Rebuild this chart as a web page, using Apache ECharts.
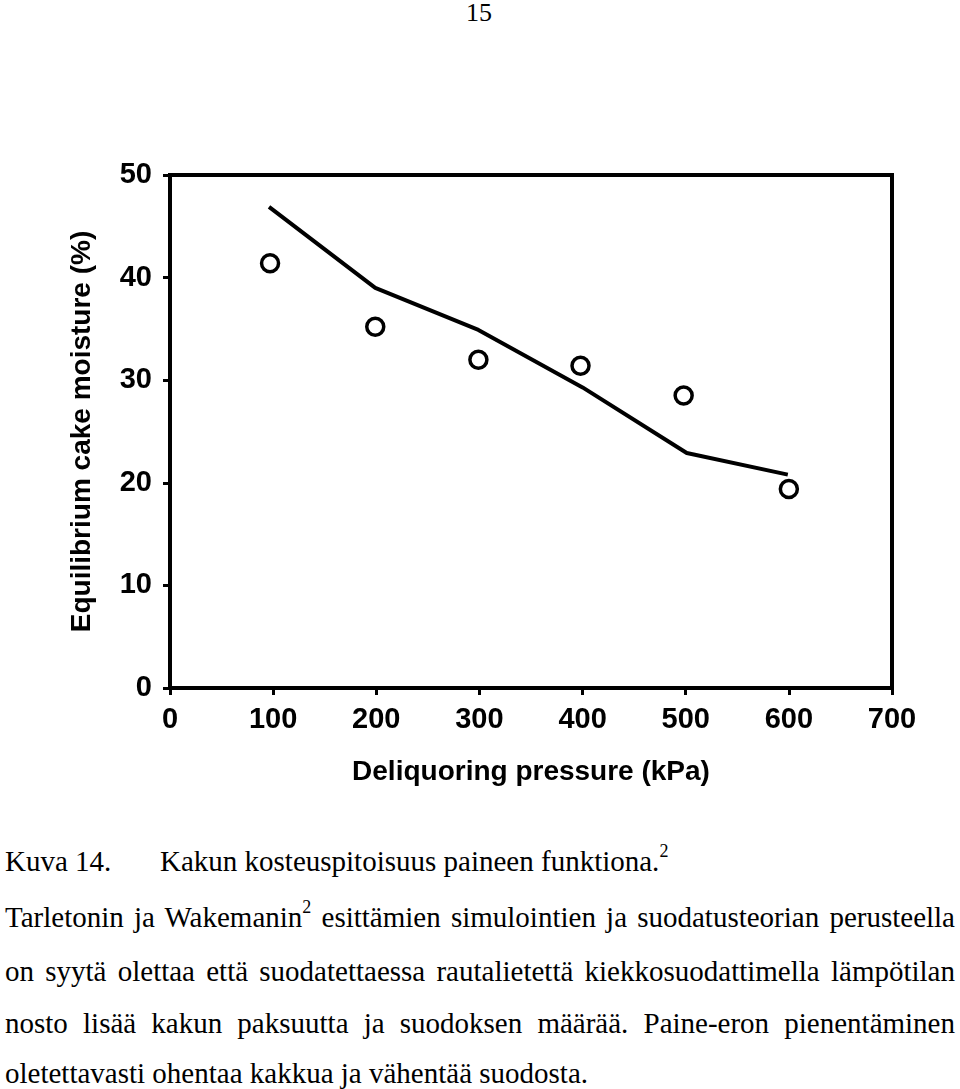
<!DOCTYPE html>
<html>
<head>
<meta charset="utf-8">
<script src="https://cdn.jsdelivr.net/npm/echarts@6/dist/echarts.min.js"></script>
<style>
  html, body { margin:0; padding:0; background:#fff; }
  #page { position:relative; width:960px; height:1089px; overflow:hidden; }
  #chart { position:absolute; left:0; top:0; width:960px; height:830px; }
  .t { position:absolute; font-family:"Liberation Serif","Times New Roman",serif; font-size:29px; color:#000; white-space:nowrap; line-height:1; }
  .j { left:5px; width:950px; text-align:justify; text-align-last:justify; white-space:normal; }
  sup { font-size:18px; vertical-align:0; position:relative; top:-14px; }
</style>
</head>
<body>
<div id="page">
  <div class="t" style="left:466px; top:0px; font-size:26px;">15</div>
  <div id="chart"></div>
  <div class="t" style="left:5px; top:847px;">Kuva 14.</div>
  <div class="t" style="left:160px; top:847px;">Kakun kosteuspitoisuus paineen funktiona.<sup>2</sup></div>
  <div class="t j" style="top:903px;">Tarletonin ja Wakemanin<sup>2</sup> esittämien simulointien ja suodatusteorian perusteella</div>
  <div class="t j" style="top:957px;">on syytä olettaa että suodatettaessa rautalietettä kiekkosuodattimella lämpötilan</div>
  <div class="t j" style="top:1009px;">nosto lisää kakun paksuutta ja suodoksen määrää. Paine-eron pienentäminen</div>
  <div class="t" style="left:5px; top:1059px;">oletettavasti ohentaa kakkua ja vähentää suodosta.</div>
</div>
<script>
const xTicks = [0, 100, 200, 300, 400, 500, 600, 700];
const yTicks = [0, 10, 20, 30, 40, 50];
const measuredX = [97, 199, 299, 398, 498, 600];
const measuredY = [41.4, 35.2, 32.0, 31.4, 28.5, 19.4];
const modelX = [96, 199, 299, 400, 501, 599];
const modelY = [46.9, 39.0, 34.9, 29.3, 22.9, 20.8];
const xTitle = 'Deliquoring pressure (kPa)';
const yTitle = 'Equilibrium cake moisture (%)';

const chart = echarts.init(document.getElementById('chart'), null, {renderer:'canvas'});
const fam = '"Liberation Sans", Arial, sans-serif';
const labelFont = {color:'#000', fontSize:29, fontWeight:'bold', fontFamily:fam};
chart.setOption({
  animation:false,
  grid:{left:170, top:175, width:722, height:513, show:true, borderColor:'#000', borderWidth:4, backgroundColor:'rgba(0,0,0,0)'},
  xAxis:{
    type:'value', min:xTicks[0], max:xTicks[xTicks.length-1], interval:100,
    axisLine:{show:true, lineStyle:{color:'#000', width:4}},
    axisTick:{show:true, inside:false, length:7, lineStyle:{color:'#000', width:3}},
    axisLabel:Object.assign({margin:17}, labelFont),
    splitLine:{show:false},
    name:xTitle, nameLocation:'middle', nameGap:70,
    nameTextStyle:{color:'#000', fontSize:28, fontWeight:'bold', fontFamily:fam}
  },
  yAxis:{
    type:'value', min:yTicks[0], max:yTicks[yTicks.length-1], interval:10,
    axisLine:{show:true, lineStyle:{color:'#000', width:4}},
    axisTick:{show:true, inside:false, length:7, lineStyle:{color:'#000', width:3}},
    axisLabel:Object.assign({margin:18}, labelFont),
    splitLine:{show:false},
    name:yTitle, nameLocation:'middle', nameGap:74,
    nameTextStyle:{color:'#000', fontSize:28, fontWeight:'bold', fontFamily:fam}
  },
  series:[
    {type:'line', data:modelX.map((x,i)=>[x, modelY[i]]), symbol:'none', lineStyle:{color:'#000', width:4}, z:2},
    {type:'scatter', data:measuredX.map((x,i)=>[x, measuredY[i]]), symbol:'circle', symbolSize:17,
     itemStyle:{color:'#fff', borderColor:'#000', borderWidth:3.5, opacity:1}, z:3}
  ]
});
</script>
</body>
</html>
